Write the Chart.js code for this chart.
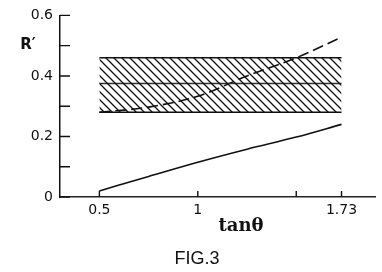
<!DOCTYPE html>
<html>
<head>
<meta charset="utf-8">
<script src="https://cdn.jsdelivr.net/npm/chart.js@4/dist/chart.umd.min.js"></script>
<style>
  html, body { margin: 0; padding: 0; background: #fff; }
  #wrap { width: 382px; height: 272px; }
</style>
</head>
<body>
<div id="wrap"><canvas id="fig"></canvas></div>
<script>
// values
const xBand = [0.5, 1.73]
const bandLow = [0.28, 0.28]
const bandHigh = [0.46, 0.46]
const bandMid = [0.375, 0.375]

const xCurve = [0.5, 0.75, 1, 1.25, 1.5, 1.73]
const dashedR = [0.28, 0.297, 0.333, 0.40, 0.46, 0.528]
const solidR = [0.02, 0.068, 0.115, 0.158, 0.198, 0.24]

const xTicks = [0.5, 1, 1.5, 1.73]
const xLabels = ["0.5", "1", "", "1.73"]
const yTicks = [0, 0.1, 0.2, 0.3, 0.4, 0.5, 0.6]
const yLabels = ["0", "", "0.2", "", "0.4", "", "0.6"]

const ink = "#111"
const labelFont = { family: "DejaVu Sans", size: 14 }

const pts = (xs, ys) => xs.map((x, i) => ({ x: x, y: ys[i] }))

// diagonal hatch for the band
const hatch = (() => {
  const c = document.createElement("canvas")
  c.width = 8
  c.height = 8
  const g = c.getContext("2d")
  g.strokeStyle = ink
  g.lineWidth = 1.3
  g.beginPath()
  g.moveTo(0, 0); g.lineTo(8, 8)
  g.moveTo(-1, 7); g.lineTo(1, 9)
  g.moveTo(7, -1); g.lineTo(9, 1)
  g.stroke()
  return g.createPattern(c, "repeat")
})()

// tick marks drawn on the inside of the axes, and the loose texts
const figureBits = {
  id: "figureBits",
  afterDraw(chart) {
    const { ctx, scales } = chart
    const xs = scales.x, ys = scales.y
    const y0 = ys.getPixelForValue(0)
    const x0 = xs.left
    ctx.save()
    ctx.strokeStyle = ink
    ctx.lineWidth = 1.4
    ctx.beginPath()
    yTicks.forEach((v) => {
      const py = ys.getPixelForValue(v)
      ctx.moveTo(x0, py)
      ctx.lineTo(x0 + 10, py)
    })
    xTicks.forEach((v) => {
      const px = xs.getPixelForValue(v)
      ctx.moveTo(px, y0)
      ctx.lineTo(px, y0 - 6)
    })
    ctx.stroke()

    ctx.fillStyle = ink
    ctx.textAlign = "center"
    ctx.textBaseline = "middle"
    ctx.font = "bold 15px 'DejaVu Sans'"
    ctx.fillText("R\u2032", 28, 45)
    ctx.font = "bold 18px 'DejaVu Serif'"
    ctx.fillText("tan\u03b8", 241, 226)
    ctx.font = "18px 'Liberation Sans'"
    ctx.fillText("FIG.3", 197, 259)
    ctx.restore()
  },
}

const line = (data, extra) => ({
  data: data,
  borderColor: ink,
  borderWidth: 1.6,
  pointRadius: 0,
  fill: false,
  ...extra,
})

new Chart(document.getElementById("fig"), {
  type: "line",
  data: {
    datasets: [
      line(pts(xBand, bandLow)),
      line(pts(xBand, bandHigh), { fill: "-1", backgroundColor: hatch }),
      line(pts(xBand, bandMid), { borderColor: "#333", borderWidth: 1.4 }),
      line(pts(xCurve, dashedR), { borderDash: [11, 5], cubicInterpolationMode: "monotone" }),
      line(pts(xCurve, solidR), { cubicInterpolationMode: "monotone" }),
    ],
  },
  options: {
    responsive: true,
    maintainAspectRatio: false,
    animation: false,
    layout: { padding: { top: 13, right: 7, left: 0, bottom: 0 } },
    plugins: { legend: { display: false }, tooltip: { enabled: false } },
    scales: {
      x: {
        type: "linear",
        min: 0.3,
        max: 1.9,
        grid: { display: false, drawTicks: false },
        border: { display: true, color: "#222", width: 1.5 },
        afterBuildTicks: (s) => { s.ticks = xTicks.map((v) => ({ value: v })) },
        afterFit: (s) => { s.height = 75 },
        ticks: {
          padding: 5,
          color: ink,
          font: labelFont,
          maxRotation: 0,
          callback: (v) => xLabels[xTicks.indexOf(v)] ?? "",
        },
      },
      y: {
        type: "linear",
        min: 0,
        max: 0.6,
        grid: { display: false, drawTicks: false },
        border: { display: true, color: ink, width: 1.5 },
        afterBuildTicks: (s) => { s.ticks = yTicks.map((v) => ({ value: v })) },
        afterFit: (s) => { s.width = 60 },
        ticks: {
          padding: 7,
          color: ink,
          font: labelFont,
          callback: (v) => yLabels[yTicks.indexOf(v)] ?? "",
        },
      },
    },
  },
  plugins: [figureBits],
})
</script>
</body>
</html>
